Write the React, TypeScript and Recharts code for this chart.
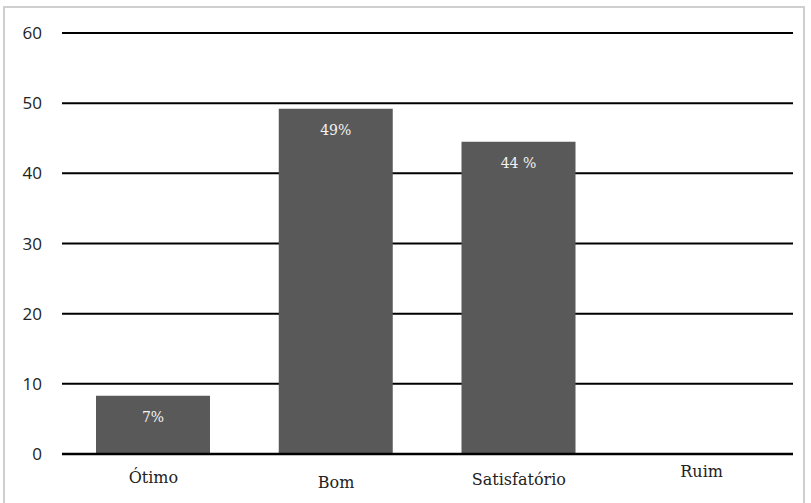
import React from "react";
import { BarChart, Bar, XAxis, YAxis, CartesianGrid, LabelList } from "recharts";

const categories = ["Ótimo", "Bom", "Satisfatório", "Ruim"];
const values = [8.3, 49.2, 44.5, 0];
const barLabels = ["7%", "49%", "44 %", ""];
const yTicks = [0, 10, 20, 30, 40, 50, 60];

const data = categories.map((c, i) => ({ name: c, value: values[i], label: barLabels[i] }));

const tickDy = [21, 26, 23, 15];
const SERIF = "'DejaVu Serif', 'Liberation Serif', serif";

const CatTick = (props: any) => {
  const { x, y, payload, index } = props;
  return (
    <text
      x={x}
      y={y}
      dy={tickDy[index] ?? 20}
      textAnchor="middle"
      fill="#222"
      style={{ fontFamily: SERIF, fontSize: 16 }}
    >
      {payload.value}
    </text>
  );
};

const BarLabel = (props: any) => {
  const { x, y, width, value } = props;
  if (!value) return null;
  return (
    <text
      x={x + width / 2}
      y={y + 26}
      textAnchor="middle"
      fill="#f2f2f2"
      style={{ fontFamily: SERIF, fontSize: 14 }}
    >
      {value}
    </text>
  );
};

export default function App() {
  return (
    <div style={{ position: "absolute", left: 0, top: 0, width: 811, height: 503, background: "#fff" }}>
      <div
        style={{
          position: "absolute",
          left: 3,
          top: 6,
          width: 802,
          height: 500,
          border: "2px solid #cfcfcf",
          borderBottom: "none",
          boxSizing: "border-box",
        }}
      />
      <div style={{ position: "absolute", left: 0, top: 0 }}>
        <BarChart
          width={811}
          height={503}
          data={data}
          margin={{ top: 33, right: 18, bottom: 19, left: 0 }}
          barSize={114}
        >
          <CartesianGrid vertical={false} stroke="#000" strokeWidth={2} />
          <XAxis
            dataKey="name"
            height={30}
            tickLine={false}
            axisLine={{ stroke: "#000", strokeWidth: 2.5 }}
            tick={<CatTick />}
            interval={0}
          />
          <YAxis
            width={62}
            domain={[0, 60]}
            ticks={yTicks}
            tickLine={false}
            axisLine={false}
            tickSize={0}
            tickMargin={20}
            tick={{ fill: "#222", fontSize: 17, fontFamily: "'Open Sans', sans-serif" }}
          />
          <Bar dataKey="value" fill="#595959" isAnimationActive={false}>
            <LabelList dataKey="label" content={<BarLabel />} />
          </Bar>
        </BarChart>
      </div>
    </div>
  );
}
